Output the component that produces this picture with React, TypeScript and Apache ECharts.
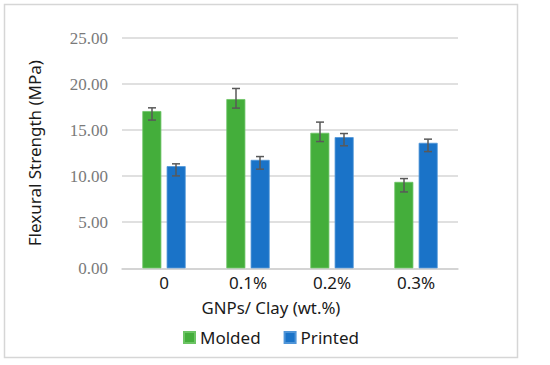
import React, { useEffect, useRef } from "react";
import * as echarts from "echarts";

const categories = ["0", "0.1%", "0.2%", "0.3%"];
const molded = [17.07, 18.37, 14.71, 9.38];
const moldedLow = [16.09, 17.39, 13.76, 8.29];
const moldedHigh = [17.42, 19.52, 15.87, 9.74];
const printed = [11.09, 11.77, 14.24, 13.62];
const printedLow = [10.03, 10.76, 13.3, 12.67];
const printedHigh = [11.34, 12.13, 14.63, 14.02];
const yTicks = { min: 0, max: 25, interval: 5 };
const xTitle = "GNPs/ Clay (wt.%)";
const yTitle = "Flexural Strength (MPa)";

const GREEN = "#44ae3b";
const BLUE = "#1a73c8";
const SANS = "Noto Sans";

function errorSeries(name: string, low: number[], high: number[], offset: number) {
  return {
    type: "custom",
    name,
    z: 10,
    data: categories.map((_, i) => [i, low[i], high[i]]),
    encode: { x: 0, y: [1, 2] },
    renderItem: (params: any, api: any) => {
      const idx = api.value(0);
      const lo = api.coord([idx, api.value(1)]);
      const hi = api.coord([idx, api.value(2)]);
      const x = lo[0] + offset;
      const cap = 4;
      const style = { stroke: "#595959", lineWidth: 1.5 };
      return {
        type: "group",
        children: [
          { type: "line", shape: { x1: x, y1: lo[1], x2: x, y2: hi[1] }, style },
          { type: "line", shape: { x1: x - cap, y1: hi[1], x2: x + cap, y2: hi[1] }, style },
          { type: "line", shape: { x1: x - cap, y1: lo[1], x2: x + cap, y2: lo[1] }, style },
        ],
      };
    },
  };
}

export default function App() {
  const ref = useRef<HTMLDivElement>(null);
  useEffect(() => {
    if (!ref.current) return;
    const chart = echarts.init(ref.current, null, { renderer: "svg" });
    chart.setOption({
      animation: false,
      backgroundColor: "#ffffff",
      graphic: [
        {
          type: "rect",
          shape: { x: 4.5, y: 4.5, width: 513, height: 353 },
          style: { fill: "none", stroke: "#d6d6d6", lineWidth: 1.5 },
          silent: true,
        },
        {
          type: "text",
          x: 271,
          y: 307,
          style: {
            text: xTitle,
            fontFamily: SANS,
            fontSize: 16.8,
            fill: "#1a1a1a",
            align: "center",
            verticalAlign: "middle",
          },
          silent: true,
        },
      ],
      grid: { left: 122, right: 92, top: 38, bottom: 96.7 },
      legend: {
        data: ["Molded", "Printed"],
        left: 183,
        top: 329,
        padding: 0,
        icon: "rect",
        itemWidth: 11,
        itemHeight: 11,
        itemGap: 23,
        textStyle: { fontFamily: SANS, fontSize: 17, color: "#1a1a1a", padding: [0, 0, 0, 0] },
      },
      xAxis: {
        type: "category",
        data: categories,
        axisLine: { show: true, lineStyle: { color: "#d0d0d0", width: 1.5 } },
        axisTick: { show: false },
        axisLabel: { fontFamily: SANS, fontSize: 17, color: "#1a1a1a", margin: 6 },
      },
      yAxis: {
        type: "value",
        min: yTicks.min,
        max: yTicks.max,
        interval: yTicks.interval,
        name: yTitle,
        nameLocation: "middle",
        nameGap: 79,
        nameTextStyle: { fontFamily: SANS, fontSize: 17, color: "#1a1a1a" },
        axisLine: { show: false },
        axisTick: { show: false },
        axisLabel: {
          fontFamily: "Liberation Serif",
          fontSize: 17,
          color: "#7a7a7a",
          margin: 14,
          formatter: (v: number) => v.toFixed(2),
        },
        splitLine: { lineStyle: { color: "#d6d6d6", width: 1.5 } },
      },
      series: [
        {
          type: "bar",
          name: "Molded",
          data: molded,
          barWidth: 19,
          barGap: "28%",
          itemStyle: { color: GREEN, borderColor: "#6cc464", borderWidth: 0.8 },
        },
        {
          type: "bar",
          name: "Printed",
          data: printed,
          barWidth: 19,
          itemStyle: { color: BLUE, borderColor: "#4f95d8", borderWidth: 0.8 },
        },
        errorSeries("MoldedErr", moldedLow, moldedHigh, -12),
        errorSeries("PrintedErr", printedLow, printedHigh, 12),
      ],
    });
    return () => chart.dispose();
  }, []);
  return (
    <div
      ref={ref}
      style={{ position: "fixed", left: 0, top: 0, width: 550, height: 365 }}
    />
  );
}
